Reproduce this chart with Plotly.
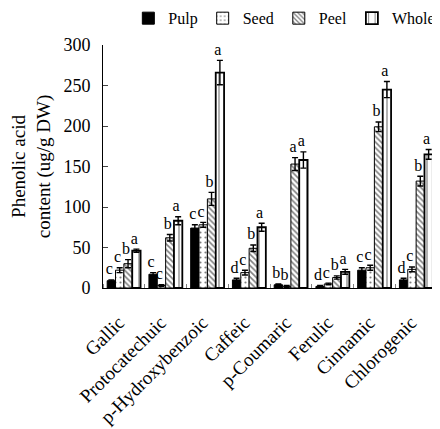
import plotly.graph_objects as go
import numpy as np

categories = ["Gallic", "Protocatechuic", "p-Hydroxybenzoic", "Caffeic",
              "p-Coumaric", "Ferulic", "Cinnamic", "Chlorogenic"]
series_names = ["Pulp", "Seed", "Peel", "Whole"]

pulp = [9, 17, 74, 10, 4, 2, 22, 10]
seed = [22, 3, 78, 19, 2, 5, 25, 23]
peel = [30, 62, 110, 49, 153, 13, 199, 132]
whole = [46, 83, 266, 75, 158, 20, 245, 165]

pulp_err = [1, 2, 4, 2, 1, 1, 3, 2]
seed_err = [3, 1, 3, 3, 1, 1, 3, 3]
peel_err = [5, 4, 8, 4, 8, 2, 6, 6]
whole_err = [2, 5, 15, 5, 10, 3, 10, 6]

pulp_letters = ["c", "c", "c", "d", "b", "d", "c", "d"]
seed_letters = ["c", "c", "c", "c", "b", "c", "c", "c"]
peel_letters = ["b", "b", "b", "b", "a", "b", "b", "b"]
whole_letters = ["a", "a", "a", "a", "a", "a", "a", "a"]

y_ticks = [0, 50, 100, 150, 200, 250, 300]

values = [pulp, seed, peel, whole]
errors = [pulp_err, seed_err, peel_err, whole_err]
letters = [pulp_letters, seed_letters, peel_letters, whole_letters]

FONT = "Liberation Serif, Times New Roman, serif"
x = np.arange(len(categories))

styles = [
    dict(color="black", marker_pattern=dict(shape=""), line_w=1),
    dict(color="white", marker_pattern=dict(shape=".", fgcolor="black", size=5, solidity=0.15), line_w=1),
    dict(color="white", marker_pattern=dict(shape="\\", fgcolor="black", size=4, solidity=0.4), line_w=1),
    dict(color="white", marker_pattern=dict(shape="|", fgcolor="black", size=8, solidity=0.15), line_w=1.8),
]

fig = go.Figure()
for name, vals, errs, st in zip(series_names, values, errors, styles):
    fig.add_trace(go.Bar(
        name=name, x=x, y=vals,
        marker=dict(color=st["color"], pattern=st["marker_pattern"],
                    line=dict(color="black", width=st["line_w"])),
        error_y=dict(type="data", array=errs, visible=True, color="black",
                     thickness=1.4, width=3),
    ))

bargap = 0.2
bw = (1 - bargap) / len(series_names)
for j, (vals, errs, labs) in enumerate(zip(values, errors, letters)):
    off = -(1 - bargap) / 2 + bw * (j + 0.5) - 0.05
    fig.add_trace(go.Scatter(
        x=x + off, y=[v + e + 2 for v, e in zip(vals, errs)],
        mode="text", text=labs, textposition="top center",
        textfont=dict(family=FONT, size=16, color="black"),
        showlegend=False, hoverinfo="skip", cliponaxis=False,
    ))

# page body has an 8px margin; figure is sized so the page is 440x429
fig.update_layout(
    width=432, height=421,
    margin=dict(l=95, r=3, t=37, b=141, autoexpand=False),
    paper_bgcolor="white", plot_bgcolor="white",
    barmode="group", bargap=bargap, bargroupgap=0,
    font=dict(family=FONT, size=16, color="black"),
    legend=dict(orientation="h", x=1.01, xanchor="right", y=1.11, yanchor="middle",
                font=dict(family=FONT, size=16), itemwidth=30,
                tracegroupgap=0, bgcolor="rgba(0,0,0,0)"),
    xaxis=dict(
        range=[-0.5, 7.5], tickmode="array", tickvals=list(x), ticktext=categories,
        tickangle=-45, ticks="", showline=True, linecolor="black", linewidth=1,
        showgrid=False, zeroline=False, tickfont=dict(family=FONT, size=19),
        automargin=False, ticklabelstandoff=15, ticklabelshift=-5,
        minor=dict(tickmode="linear", tick0=0.5, dtick=1, ticks="inside",
                   ticklen=4, tickcolor="gray", showgrid=False),
    ),
    yaxis=dict(
        range=[0, 300], tickmode="array", tickvals=y_ticks, ticks="inside", ticklen=5,
        showline=True, linecolor="black", linewidth=1, showgrid=False, zeroline=False,
        tickfont=dict(family=FONT, size=18), automargin=False, ticklabelstandoff=8,
        title=dict(text="Phenolic acid<br>content (ug/g DW)", font=dict(family=FONT, size=19),
                   standoff=8),
    ),
)

fig.write_html("out.html")
